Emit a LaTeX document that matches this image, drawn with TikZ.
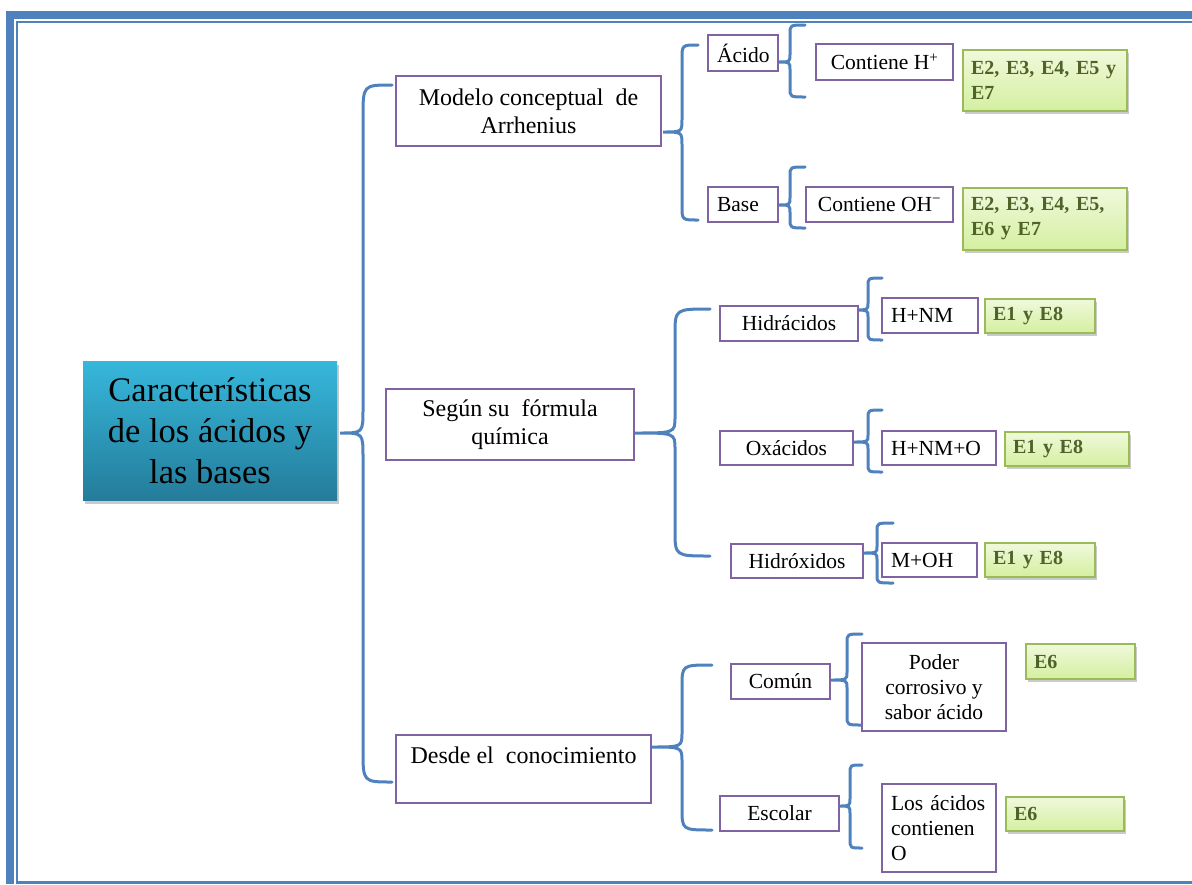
\documentclass[tikz,border=0pt]{standalone}
\usepackage{fontspec}
\setmainfont{Liberation Serif}
\usetikzlibrary{shadows}
\definecolor{frameblue}{RGB}{79,129,189}
\definecolor{boxpurple}{RGB}{128,100,162}
\definecolor{greenline}{RGB}{155,187,89}
\definecolor{greentext}{RGB}{79,98,40}
\definecolor{greentop}{RGB}{240,249,220}
\definecolor{greenbot}{RGB}{212,239,160}
\definecolor{tealtop}{RGB}{54,183,219}
\definecolor{tealbot}{RGB}{36,124,154}

% curly brace: tip x, tip y, spine x, top y, bottom y, end x, end radius, tip radius
\newcommand\curlybrace[8]{%
  \draw[bracestyle] (#6,#4) .. controls (#3,#4) .. (#3,{#4+#7}) -- (#3,{#2-#8})
    .. controls (#3,#2) .. (#1,#2) .. controls (#3,#2) .. (#3,{#2+#8})
    -- (#3,{#5-#7}) .. controls (#3,#5) .. (#6,#5);}

\begin{document}
\begin{tikzpicture}[x=1pt,y=-1pt,
  bracestyle/.style={draw=frameblue, line width=3pt, line cap=round},
  purplebox/.style={draw=boxpurple, line width=2.5pt, fill=white, inner sep=0pt, align=center},
  bigtxt/.style={font=\fontsize{24}{28}\selectfont},
  smalltxt/.style={font=\fontsize{21.5}{25}\selectfont},
  leftbox/.style={purplebox, smalltxt, align=left, inner xsep=9pt},
  greenbox/.style={draw=greenline, line width=2pt, top color=greentop, bottom color=greenbot,
    drop shadow={shadow xshift=2pt, shadow yshift=-3pt, opacity=0.35, fill=black!60},
    font=\bfseries\fontsize{20}{25}\selectfont, text=greentext, align=left,
    inner xsep=8pt, inner ysep=0pt},
  mainbox/.style={draw=none, top color=tealtop, bottom color=tealbot,
    drop shadow={shadow xshift=2pt, shadow yshift=-4pt, opacity=0.35, fill=black!60},
    font=\fontsize{34.5}{41}\selectfont, align=center, inner sep=0pt}
]
\useasboundingbox (0,0) rectangle (1192,884);

% page frame
\fill[frameblue] (6,11) rectangle (14,884);
\fill[frameblue] (6,11) rectangle (1192,19);
\fill[frameblue] (16,21) rectangle (18,884);
\fill[frameblue] (16,21) rectangle (1192,23);
\fill[frameblue] (16,881) rectangle (1192,884);

% braces
\curlybrace{340}{433}{363}{85}{782}{392}{32}{24}
\curlybrace{663}{132}{682}{45}{220}{698}{14}{13}
\curlybrace{778}{62}{790}{25}{97}{805}{9}{8}
\curlybrace{778}{205}{790}{167}{228}{805}{9}{8}
\curlybrace{634}{433}{675}{309}{556}{710}{26}{16}
\curlybrace{853}{310}{868}{278}{340}{882}{8}{7}
\curlybrace{853}{442}{868}{410}{472}{882}{8}{7}
\curlybrace{863}{553}{877}{523}{583}{893}{8}{7}
\curlybrace{651}{747}{682}{665}{830}{712}{22}{15}
\curlybrace{830}{680}{847}{634}{725}{862}{9}{8}
\curlybrace{839}{806}{850}{765}{848}{862}{9}{8}

% root
\node[mainbox, minimum width=254, minimum height=139] (root) at (210,430.5)
  {Características\\de los ácidos y\\las bases};

% first level
\node[purplebox, bigtxt, minimum width=265, minimum height=70] (modelo) at (528.5,111)
  {Modelo conceptual \ de\\Arrhenius};
\node[purplebox, bigtxt, minimum width=248, minimum height=71] (segun) at (510,424.5)
  {Según su \ fórmula\\química};
\node[purplebox, bigtxt, minimum width=255, minimum height=68] (desde) at (523.5,769)
  {Desde el \ conocimiento\\\mbox{}};

% Arrhenius branch
\node[leftbox, minimum width=70, minimum height=36, text width=52] (acido) at (743,53) {Ácido};
\node[leftbox, minimum width=70, minimum height=35, text width=52] (base) at (743,204.5) {Base};
\node[purplebox, smalltxt, minimum width=137, minimum height=36] (conth) at (884.5,62)
  {Contiene H\textsuperscript{+}};
\node[purplebox, smalltxt, minimum width=147, minimum height=35] (contoh) at (879.5,204.5)
  {Contiene OH\textsuperscript{\char"2212}};
\node[greenbox, minimum width=164, minimum height=61, text width=148] (g1) at (1045,80.5)
  {E2, E3, E4, E5 y\\E7};
\node[greenbox, minimum width=164, minimum height=62, text width=148] (g2) at (1045,219)
  {E2, E3, E4, E5,\\E6 y E7};

% formula branch
\node[purplebox, smalltxt, minimum width=138, minimum height=35] (hidra) at (789,323.5) {Hidrácidos};
\node[purplebox, smalltxt, minimum width=133, minimum height=34] (oxa) at (786.5,448) {Oxácidos};
\node[purplebox, smalltxt, minimum width=132, minimum height=34] (hidro) at (797,561) {Hidróxidos};
\node[leftbox, minimum width=96, minimum height=35, text width=78] (hnm) at (930,315.5) {H+NM};
\node[leftbox, minimum width=114, minimum height=34, text width=96] (hnmo) at (939,448) {H+NM+O};
\node[leftbox, minimum width=95, minimum height=34, text width=77] (moh) at (929.5,560) {M+OH};
\node[greenbox, minimum width=110, minimum height=34, text width=94] (g3) at (1040,316) {E1 y E8};
\node[greenbox, minimum width=124, minimum height=34, text width=108] (g4) at (1067,449) {E1 y E8};
\node[greenbox, minimum width=110, minimum height=34, text width=94] (g5) at (1040,560) {E1 y E8};

% knowledge branch
\node[purplebox, smalltxt, minimum width=99, minimum height=35] (comun) at (780.5,681.5) {Común};
\node[purplebox, smalltxt, minimum width=119, minimum height=35] (escolar) at (779.5,813.5) {Escolar};
\node[purplebox, smalltxt, minimum width=144, minimum height=88] (poder) at (934,687)
  {Poder\\corrosivo y\\sabor ácido};
\node[leftbox, minimum width=114, minimum height=88, text width=96] (losac) at (939,828)
  {Los ácidos\\contienen\\O};
\node[greenbox, minimum width=109, minimum height=35, text width=93] (g6) at (1080.5,661.5) {E6};
\node[greenbox, minimum width=118, minimum height=34, text width=102] (g7) at (1065,814) {E6};
\end{tikzpicture}
\end{document}
